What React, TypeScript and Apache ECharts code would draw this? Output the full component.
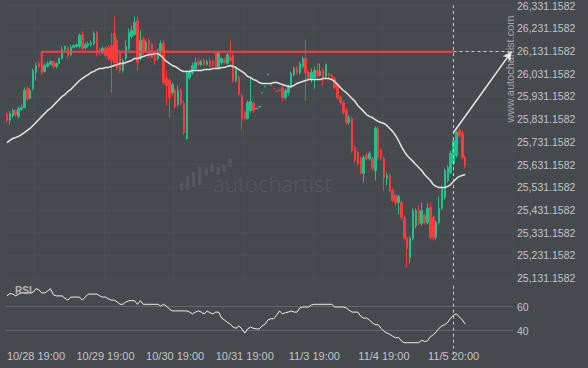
import React, { useEffect, useRef } from 'react';
import * as echarts from 'echarts';

// [open, close, low, high] hourly candles
const ohlc: number[][] = [
  [25851,25825,25816,25860],[25825,25856,25807,25865],[25847,25869,25838,25878],[25869,25851,25843,25873],[25843,25878,25834,25887],
  [25873,25882,25869,25895],[25882,25957,25878,25970],[25966,25922,25913,25975],[25922,25957,25917,25966],[25966,26045,25957,26054],
  [26036,26067,26001,26080],[26076,26063,26054,26085],[26076,26036,26027,26080],[26041,26067,26036,26076],[26063,26076,26058,26085],
  [26071,26085,26067,26089],[26085,26063,26054,26089],[26063,26076,26054,26080],[26076,26098,26071,26102],[26098,26137,26093,26151],
  [26137,26151,26129,26155],[26146,26111,26098,26155],[26115,26146,26107,26159],[26146,26155,26142,26159],[26151,26159,26146,26164],
  [26151,26199,26142,26208],[26203,26142,26133,26217],[26146,26159,26137,26168],[26155,26164,26146,26173],[26159,26168,26151,26177],
  [26164,26208,26155,26217],[26212,26120,26107,26221],[26137,26124,26111,26146],[26124,26142,26115,26151],[26142,26111,26102,26151],
  [26146,26098,26089,26159],[26155,26089,25948,26212],[26208,26080,26063,26283],[26177,26054,26045,26186],[26124,26045,26036,26133],
  [26045,26089,26036,26098],[26098,26151,26089,26177],[26142,26212,26133,26230],[26195,26221,26186,26243],[26203,26256,26199,26283],
  [26265,26080,26045,26283],[26098,26177,26089,26221],[26186,26124,26115,26195],[26133,26168,26124,26177],[26177,26107,26098,26186],
  [26159,26102,26098,26168],[26124,26089,26071,26133],[26098,26133,26089,26142],[26124,26164,26115,26177],[26164,25992,25983,26177],
  [26010,25979,25891,26045],[26001,25926,25838,26010],[25948,25983,25935,25992],[25957,25887,25878,25966],[25895,25957,25887,25979],
  [25957,25900,25891,25966],[25900,25772,25763,25913],[25746,26032,25741,26045],[26014,26041,26005,26049],[26036,26067,26027,26080],
  [26054,26080,26049,26102],[26085,26071,26063,26098],[26071,26085,26063,26093],[26089,26071,26063,26098],[26071,26085,26067,26093],
  [26089,26063,26058,26098],[26085,26071,26063,26089],[26124,26058,26054,26129],[26058,26120,26054,26129],[26080,26098,26071,26102],
  [26093,26080,26076,26102],[26076,26115,26071,26124],[26102,26089,26080,26177],[26111,26001,25992,26120],[26001,26054,25992,26063],
  [26014,25944,25935,26023],[25935,25834,25781,25944],[25860,25834,25825,25869],[25834,25904,25829,25913],[25869,25909,25860,26010],
  [25900,25869,25860,25909],[25876,25879,25876,25879],[25884,25887,25884,25887],[25946,25949,25946,25949],[25973,25976,25973,25976],
  [26025,26028,26025,26028],[25981,25978,25978,25981],[25968,25965,25965,25968],[25955,25952,25952,25955],[25959,25956,25956,25959],
  [25970,25926,25909,25975],[25926,25957,25917,25966],[25948,25975,25935,25983],[25970,26032,25966,26041],[26027,26054,26019,26063],
  [26054,26036,26027,26063],[26036,26076,26027,26085],[26063,26098,26054,26107],[26098,26036,25913,26181],[26036,26010,26001,26045],
  [26010,26036,25992,26054],[26014,26045,25966,26063],[26045,26023,26014,26076],[26023,26041,26019,26076],[26045,26014,25979,26054],
  [26019,26071,26010,26076],[26032,26023,26014,26036],[26023,26010,26005,26032],[26010,25970,25961,26019],[25983,25926,25917,25992],
  [25926,25904,25895,25935],[25904,25860,25851,25913],[25869,25816,25807,25878],[25816,25838,25807,25847],[25834,25693,25684,25843],
  [25706,25649,25640,25715],[25684,25636,25627,25693],[25658,25596,25587,25667],[25592,25662,25552,25671],[25671,25658,25649,25684],
  [25658,25680,25649,25689],[25658,25614,25605,25667],[25605,25790,25561,25799],[25790,25662,25649,25799],[25693,25658,25649,25702],
  [25658,25574,25517,25667],[25570,25583,25539,25596],[25583,25517,25508,25592],[25517,25473,25464,25526],[25495,25464,25447,25504],
  [25464,25491,25411,25499],[25464,25398,25385,25473],[25398,25306,25297,25407],[25306,25262,25178,25315],[25222,25306,25196,25315],
  [25306,25429,25297,25438],[25363,25429,25350,25438],[25429,25372,25363,25451],[25372,25429,25363,25464],[25407,25376,25367,25416],
  [25376,25438,25367,25460],[25442,25310,25301,25464],[25398,25310,25297,25407],[25310,25376,25301,25385],[25376,25438,25367,25491],
  [25438,25530,25429,25539],[25486,25605,25477,25614],[25561,25618,25552,25627],[25596,25680,25587,25693],[25636,25737,25627,25746],
  [25671,25772,25662,25781],[25781,25759,25750,25794],[25768,25662,25653,25781],[25662,25627,25614,25671],
];

const movingAvg: number[] = [
  25728,25737,25746,25750,25755,25763,25772,25781,25790,25803,
  25816,25829,25843,25856,25869,25878,25891,25904,25917,25931,
  25939,25953,25961,25975,25988,26001,26010,26019,26027,26036,
  26041,26049,26054,26054,26058,26058,26063,26067,26071,26076,
  26076,26080,26085,26089,26098,26098,26102,26107,26111,26115,
  26115,26120,26120,26111,26098,26085,26076,26067,26063,26054,
  26045,26041,26041,26041,26045,26045,26045,26045,26049,26049,
  26049,26054,26054,26054,26058,26058,26063,26067,26063,26058,
  26049,26041,26032,26019,26014,26005,26001,25992,25988,25988,
  25988,25988,25992,25992,25988,25983,25979,25975,25975,25979,
  25988,25992,25997,26001,26005,26005,26005,26005,26005,26010,
  26010,26010,26005,25997,25983,25970,25957,25948,25935,25922,
  25909,25891,25878,25865,25851,25843,25838,25829,25821,25816,
  25812,25803,25790,25777,25759,25737,25711,25689,25671,25658,
  25645,25631,25618,25605,25587,25574,25561,25543,25535,25530,
  25530,25530,25535,25543,25557,25570,25579,25583,25587,
];

const rsi: number[] = [
  69,71,70.5,69,70.5,71.5,71.5,71.5,71.5,72,
  75,74,71.5,71.5,73,75,70,69,69,69,
  67,65.5,68,68,68,68,65.5,68,70.5,70.5,
  70.5,70.5,69,68,68,66.5,65.5,65.5,64,62,
  62,64,65,65,65,62,65,62,62,62,
  62,62,62,60.5,62,60.5,58,56.5,56.5,56.5,
  56.5,56.5,56.5,55.5,54,55.5,56.5,55.5,54,56.5,
  55,54,55.5,55.5,50.5,49,47,45.5,43,42,
  44,41.5,38,41.5,43,42,41.5,41.5,44,45.5,
  49,50,50,53,56.5,54,55,55.5,56.5,55.5,
  55.5,59,59.75,59.75,59.75,61.5,62,62,62,62,
  62,62,62,59.75,59.75,59.75,59.75,59,57,55.5,
  55.5,55.5,52,50.5,50.5,49,46.5,45,45,42,
  39.5,38,37,35.5,34,34.5,31.5,30,30,30,
  30,30,30,32,31,31.5,35,36.5,39,42,
  44,45,47,50.5,53,54,51.5,49,45.5,
];

const timeLabels = ['10/28 19:00', '10/29 19:00', '10/30 19:00', '10/31 19:00', '11/3 19:00', '11/4 19:00', '11/5 20:00'];
const timeLabelIdx = [10, 34, 58, 82, 106, 130, 154];
const slotCount = 175;
const priceTicks = [25131.1582, 25231.1582, 25331.1582, 25431.1582, 25531.1582, 25631.1582, 25731.1582, 25831.1582, 25931.1582, 26031.1582, 26131.1582, 26231.1582, 26331.1582];
const rsiTicks = [40, 60];
const resistanceLevel = 26128;
const resistanceStart = [12, 26036];
const nowIdx = 154;
const forecastFrom = [154, 25772];
const forecastTo = [174, 26128];

const GREEN = '#1fc18b';
const RED = '#fb3b3b';
const LABEL = '#c3c5c7';
const FONT = 'Arial, "Liberation Sans", sans-serif';

export default function App() {
  const ref = useRef<HTMLDivElement>(null);
  useEffect(() => {
    if (!ref.current) return;
    const chart = echarts.init(ref.current, null, { renderer: 'svg' });
    const cats = Array.from({ length: slotCount }, (_, i) => String(i));
    const labelAt: Record<number, string> = {};
    timeLabelIdx.forEach((k, j) => { labelAt[k] = timeLabels[j]; });
    const fmt = (v: number) => v.toLocaleString('en-US', { minimumFractionDigits: 4, maximumFractionDigits: 4 });
    const L = 5.5, W = 507.5;

    const xAxes = [0, 1, 2].map((g) => ({
      type: 'category', gridIndex: g, data: cats, boundaryGap: true,
      axisLine: { show: false }, axisTick: { show: false },
      axisLabel: g === 2 ? {
        show: true, color: LABEL, fontSize: 11, fontFamily: FONT, margin: 3,
        interval: (i: number) => labelAt[i] !== undefined,
        formatter: (v: string) => labelAt[Number(v)] ?? '',
      } : { show: false },
      splitLine: g === 0 ? { show: true, interval: (i: number) => labelAt[i] !== undefined, lineStyle: { color: '#4a4d52', width: 1 } } : { show: false },
    }));

    const bars = [
      [180, 183, 7], [186, 176, 14], [192, 172, 15], [198, 167, 18], [204.5, 168, 8],
      [210.5, 163, 9], [216.5, 167, 8], [222.5, 165, 7], [228.5, 158, 9],
    ];

    const option: any = {
      animation: false,
      backgroundColor: '#46494e',
      textStyle: { fontFamily: FONT },
      grid: [
        { left: L, width: W, top: 5, height: 273.1 },
        { left: L, width: W, top: 282.7, height: 72 },
        { left: L, width: W, top: 340, height: 7 },
      ],
      xAxis: xAxes,
      yAxis: [
        {
          type: 'value', gridIndex: 0, position: 'right', min: priceTicks[0], max: priceTicks[priceTicks.length - 1],
          axisLine: { show: false },
          axisTick: { show: false, customValues: priceTicks },
          axisLabel: { color: LABEL, fontSize: 10.5, fontFamily: FONT, margin: 4, customValues: priceTicks, formatter: (v: number) => fmt(v) },
          splitLine: { show: true, lineStyle: { color: '#4a4d52', width: 1 } },
        },
        {
          type: 'value', gridIndex: 1, position: 'right', min: 20, max: 80,
          axisLine: { show: false },
          axisTick: { show: false, customValues: rsiTicks },
          axisLabel: { color: LABEL, fontSize: 10.5, fontFamily: FONT, margin: 4, customValues: rsiTicks },
          splitLine: { show: true, lineStyle: { color: '#62656a', width: 1 } },
        },
        { type: 'value', gridIndex: 2, show: false },
      ],
      graphic: [
        ...bars.map(([x, y, h]) => ({
          type: 'rect', z: 0, shape: { x, y, width: 3.2, height: h, r: 1.2 }, style: { fill: '#55585d' },
        })),
        { type: 'text', z: 0, x: 213, y: 183, style: { text: 'autochartist', fill: '#56595e', fontSize: 22, fontFamily: '"Open Sans", sans-serif', fontWeight: 300, verticalAlign: 'middle' } },
        { type: 'text', z: 5, x: 510, y: 69, rotation: Math.PI / 2, style: { text: 'www.autochartist.com', fill: '#a3a6a9', fontSize: 11, fontFamily: FONT, align: 'center', verticalAlign: 'middle' } },
        { type: 'text', z: 5, x: 15, y: 290, style: { text: 'RSI', fill: '#b3b5b8', fontSize: 10, fontWeight: 'bold', fontFamily: FONT, verticalAlign: 'middle' } },
      ],
      series: [
        {
          type: 'candlestick', xAxisIndex: 0, yAxisIndex: 0, data: ohlc, barWidth: 2, z: 2,
          itemStyle: { color: GREEN, color0: RED, borderColor: GREEN, borderColor0: RED, borderWidth: 1 },
          markLine: {
            silent: true, symbol: ['none', 'none'], label: { show: false },
            lineStyle: { type: [3, 3], color: '#c9cacc', width: 1 },
            data: [{ xAxis: String(nowIdx) }],
          },
        },
        {
          type: 'line', xAxisIndex: 0, yAxisIndex: 0, data: movingAvg, symbol: 'none', z: 3,
          lineStyle: { color: '#e4e4e4', width: 1.5 },
        },
        {
          type: 'line', xAxisIndex: 0, yAxisIndex: 0, symbol: 'none', z: 4,
          data: [resistanceStart, [resistanceStart[0], resistanceLevel], [nowIdx, resistanceLevel]],
          lineStyle: { color: '#ff3d3d', width: 2 },
          markLine: {
            silent: true, symbol: ['none', 'none'], label: { show: false },
            data: [
              [{ coord: [nowIdx, resistanceLevel], lineStyle: { type: [3, 3], color: '#c9cacc', width: 1 } }, { coord: [forecastTo[0], resistanceLevel] }],
              [{ coord: forecastFrom, symbol: 'none', lineStyle: { type: 'solid', color: '#e8e8e8', width: 1.5 } }, { coord: forecastTo, symbol: 'arrow', symbolSize: [7, 9] }],
            ],
          },
        },
        {
          type: 'line', xAxisIndex: 1, yAxisIndex: 1, data: rsi, symbol: 'none', z: 3,
          lineStyle: { color: '#f0f0f0', width: 1 },
          markLine: {
            silent: true, symbol: ['none', 'none'], label: { show: false },
            lineStyle: { type: [3, 3], color: '#c9cacc', width: 1 },
            data: [{ xAxis: String(nowIdx) }],
          },
        },
      ],
    };
    chart.setOption(option);
    return () => chart.dispose();
  }, []);
  return <div ref={ref} style={{ position: 'fixed', left: 0, top: 0, width: 588, height: 368 }} />;
}
